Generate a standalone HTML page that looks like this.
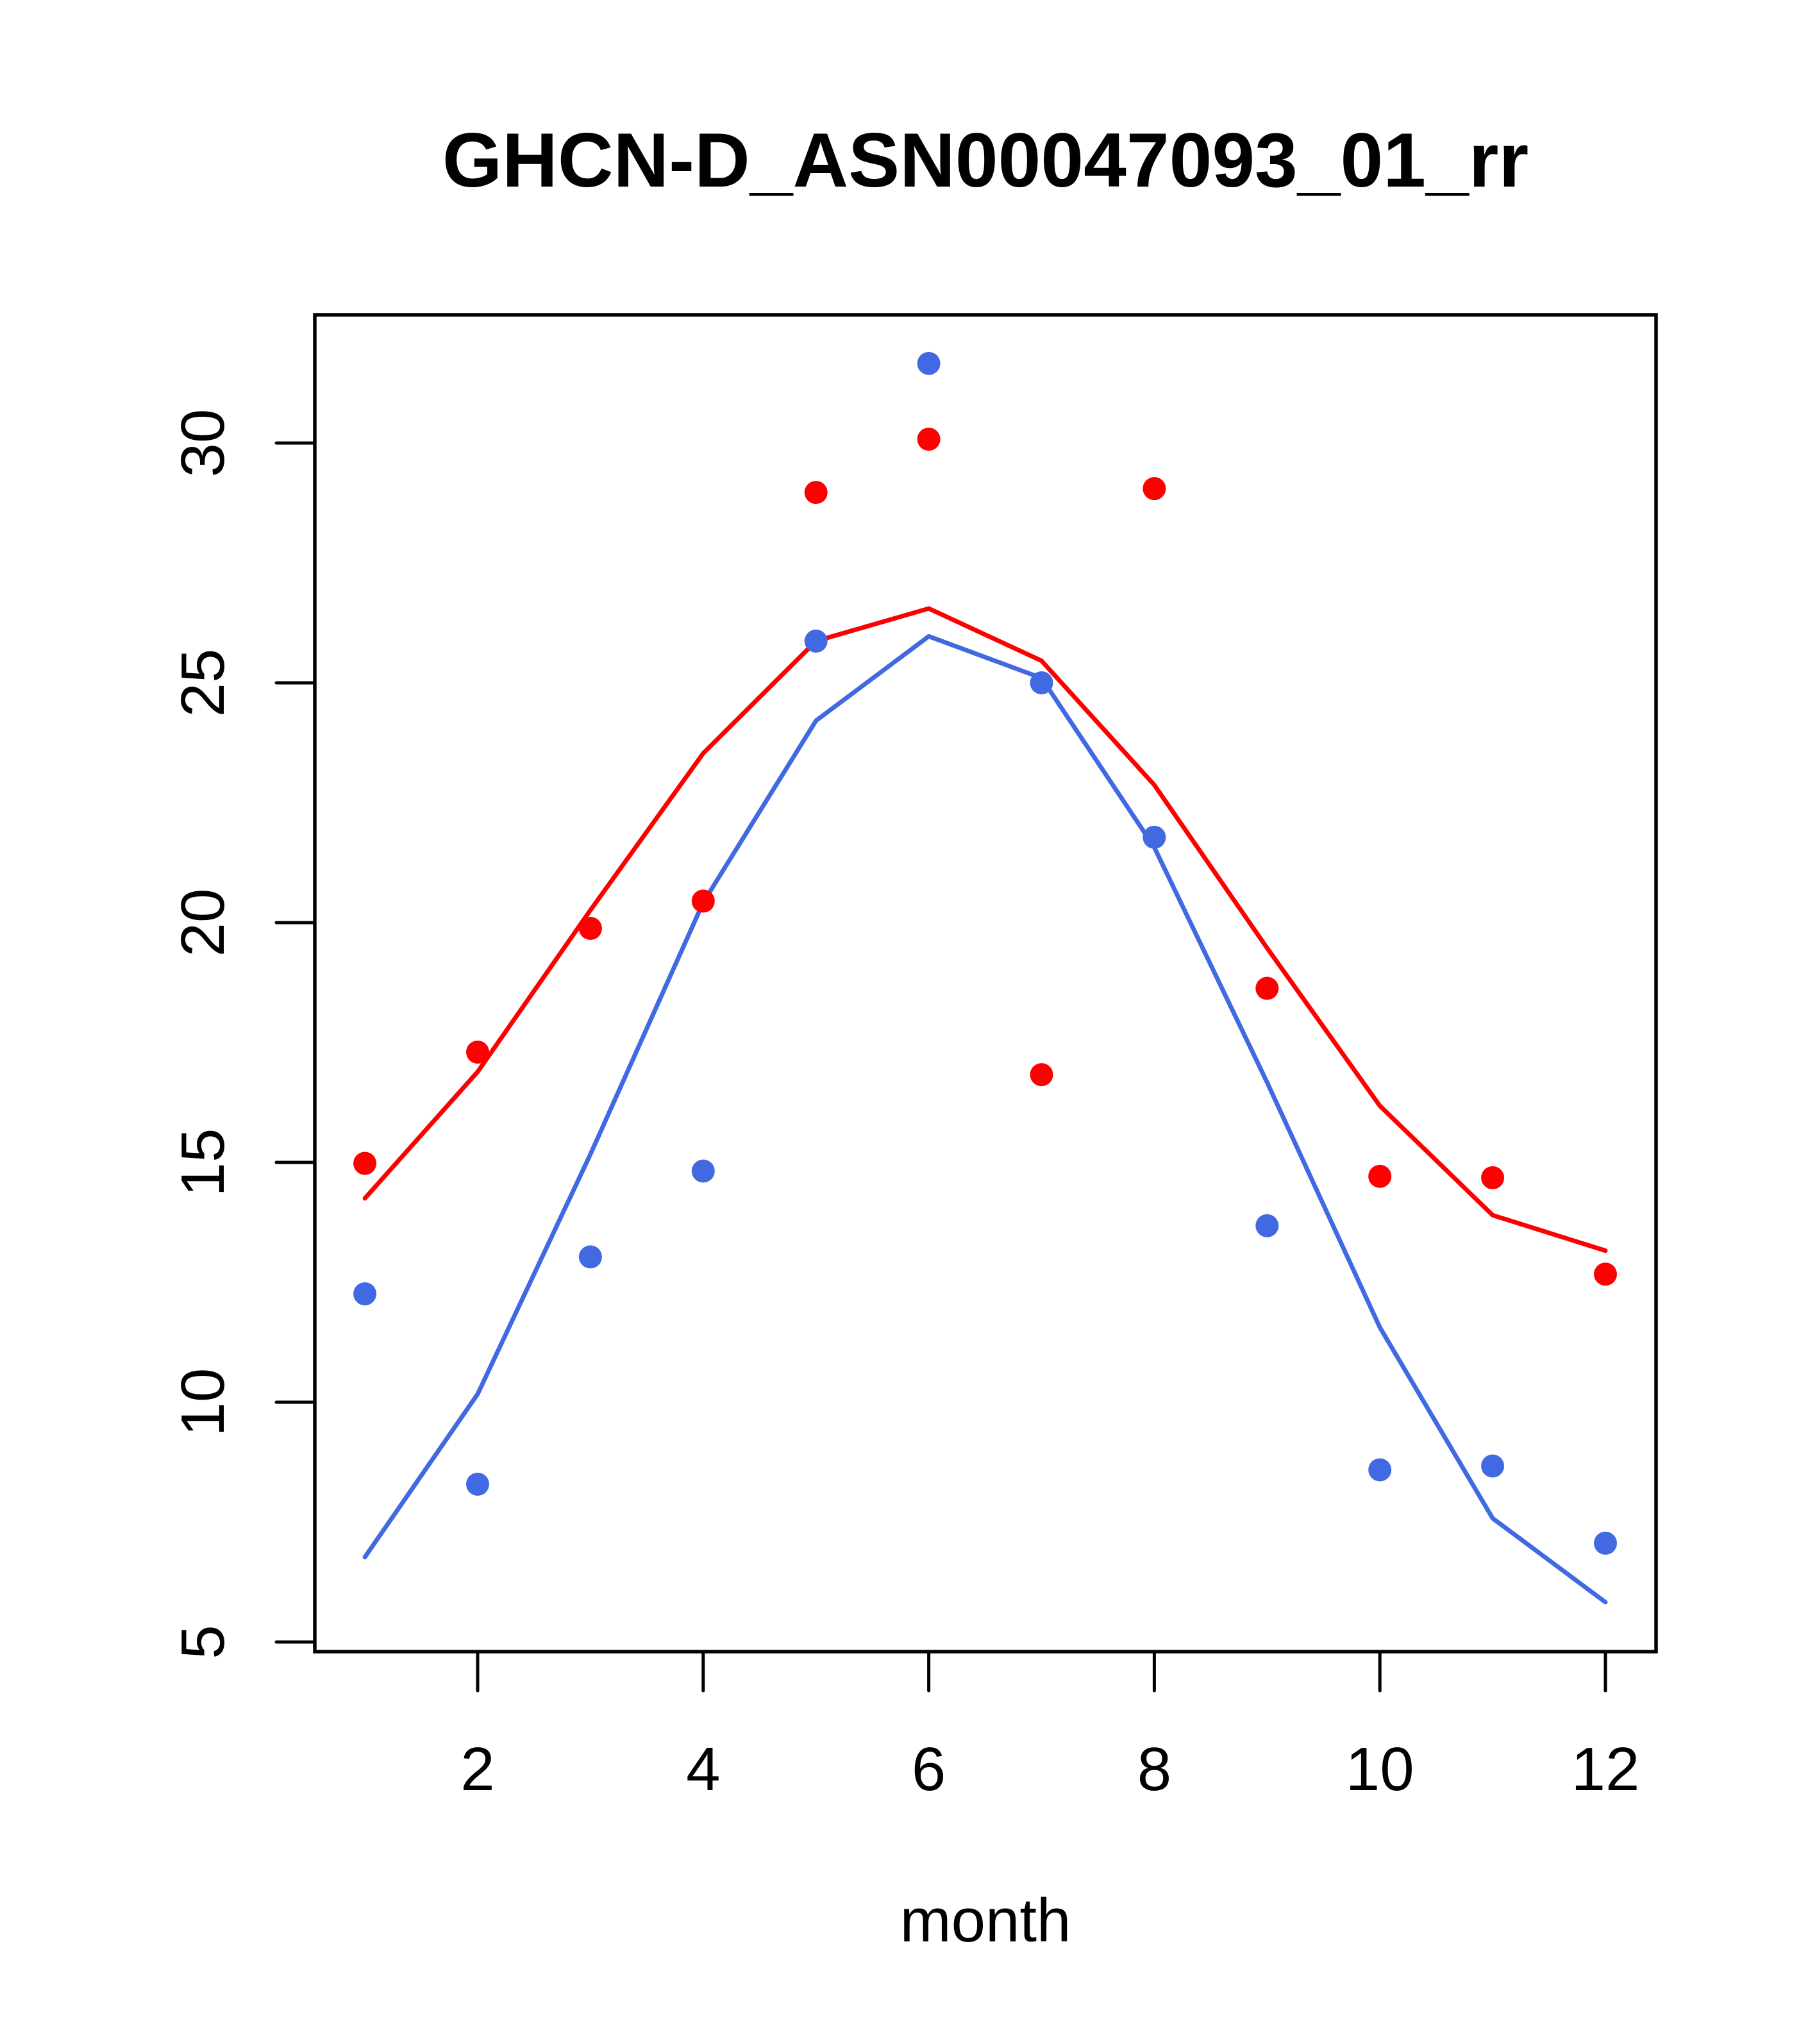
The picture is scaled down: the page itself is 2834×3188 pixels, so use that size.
<!DOCTYPE html>
<html><head><meta charset="utf-8"><style>html,body{margin:0;padding:0;background:#fff}svg{display:block}</style></head>
<body>
<svg id="chart" xmlns="http://www.w3.org/2000/svg" width="2834" height="3188" viewBox="0 0 2834 3188" font-family="Liberation Sans, sans-serif">
<rect width="2834" height="3188" fill="#fff"/>
<text x="1537" y="291" font-size="120" font-weight="bold" text-anchor="middle">GHCN-D_ASN00047093_01_rr</text>
<rect x="491" y="491" width="2092" height="2085" fill="none" stroke="#000" stroke-width="5.5"/>
<text x="1537" y="3028" font-size="96" text-anchor="middle">month</text>
<g id="axes"></g>
<g id="series"></g>
</svg>
<script>
const months = [1,2,3,4,5,6,7,8,9,10,11,12];
const redPoints = [14.98,17.3,19.88,20.45,28.97,30.08,16.83,29.05,18.63,14.71,14.68,12.67];
const bluePoints = [12.26,8.29,13.03,14.82,25.87,31.66,25.0,21.78,13.68,8.59,8.67,7.06];
const redLine = [14.25,16.89,20.26,23.53,25.87,26.55,25.46,22.87,19.47,16.18,13.9,13.16];
const blueLine = [6.77,10.17,15.17,20.42,24.21,25.97,25.1,21.57,16.67,11.56,7.58,5.83];
const xTicks = [2,4,6,8,10,12];
const yTicks = [5,10,15,20,25,30];

const NS = 'http://www.w3.org/2000/svg';
function xs(m){ return 745 + (m - 2) * (2504 - 745) / 10; }
function ys(v){ return 2561 - (v - 5) * (2561 - 691) / 25; }
function mk(tag, attrs, parent){ const e = document.createElementNS(NS, tag); for (const k in attrs) e.setAttribute(k, attrs[k]); parent.appendChild(e); return e; }

const axes = document.getElementById('axes');
const series = document.getElementById('series');

xTicks.forEach(t => {
  const l = mk('line', {x1: xs(t), x2: xs(t), y1: 2576, y2: 2637, stroke: '#000', 'stroke-width': 5, 'stroke-linecap': 'round'}, axes);
  
  
  const tx = mk('text', {x: xs(t), y: 2792, 'font-size': 96, 'text-anchor': 'middle'}, axes);
  tx.textContent = t;
  
  
});
yTicks.forEach(t => {
  const l = mk('line', {x1: 431, x2: 491, y1: ys(t), y2: ys(t), stroke: '#000', 'stroke-width': 5, 'stroke-linecap': 'round'}, axes);
  
  
  const tx = mk('text', {x: 0, y: 0, 'font-size': 96, 'text-anchor': 'middle', transform: 'translate(349,' + ys(t) + ') rotate(-90)'}, axes);
  tx.textContent = t;
  
  
});

function drawLine(vals, color, name){
  const p = mk('polyline', {points: vals.map((v,i) => xs(months[i]) + ',' + ys(v)).join(' '), fill: 'none', stroke: color, 'stroke-width': 7, 'stroke-linecap': 'round', 'stroke-linejoin': 'round'}, series);
  
  
}
function drawPoints(vals, color, name){
  vals.forEach((v,i) => {
    const c = mk('circle', {cx: xs(months[i]), cy: ys(v), r: 18, fill: color}, series);
    
    
  });
}
drawLine(redLine, '#ff0000', 'red-fit-line');
drawLine(blueLine, '#4169e1', 'blue-fit-line');
drawPoints(redPoints, '#ff0000', 'red-point');
drawPoints(bluePoints, '#4169e1', 'blue-point');
</script>
</body></html>
